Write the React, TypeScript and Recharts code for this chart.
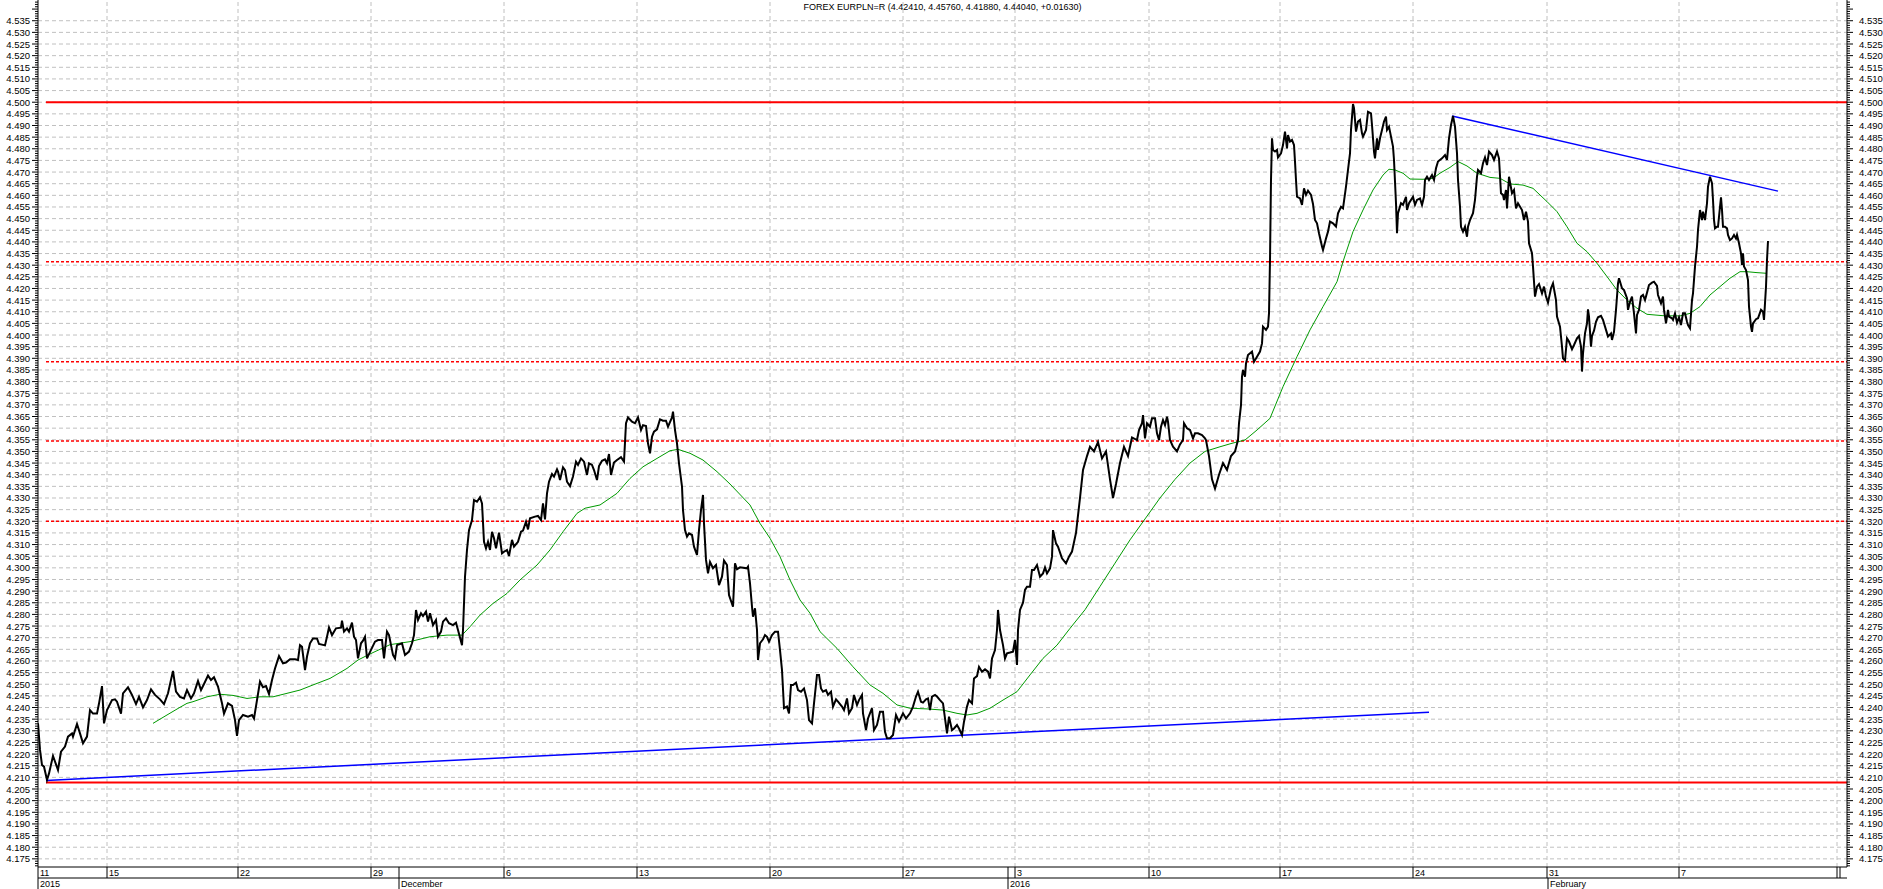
import React from "react";
import { ComposedChart, Line, XAxis, YAxis, ReferenceLine } from "recharts";

const WIDTH = 1883;
const HEIGHT = 889;
const FONT = "'Liberation Sans', Arial, sans-serif";

const TITLE = "FOREX EURPLN=R (4.42410, 4.45760, 4.41880, 4.44040, +0.01630)";

// x = trading bar index, bar 0 = 11 Nov 2015
const BAR_DOMAIN: [number, number] = [0, 1809];
const PRICE_DOMAIN: [number, number] = [4.1715, 4.5439];

const weekTicks = [0, 69, 200, 333, 466, 599, 732, 865, 977, 1111, 1242, 1375, 1509, 1641, 1799];
// last label is hidden under the right edge in the original
const weekLabels = ["11", "15", "22", "29", "6", "13", "20", "27", "3", "10", "17", "24", "31", "7", ""];
const monthTicks = [0, 361, 970, 1510];
const monthLabels = ["2015", "December", "2016", "February"];

// [bar, close]
const closePrices: [number, number][] = [
  [0, 4.2332], [2, 4.2218], [4, 4.2153], [6, 4.2146], [9, 4.2089], [11, 4.2117], [15, 4.2192], [20, 4.2132],
  [23, 4.221], [27, 4.2232], [30, 4.2275], [34, 4.2289], [35, 4.2275], [39, 4.2329], [42, 4.2289], [45, 4.2246],
  [49, 4.2275], [52, 4.2389], [55, 4.2374], [59, 4.2374], [61, 4.2417], [64, 4.2492], [66, 4.2332], [69, 4.2389],
  [74, 4.2432], [77, 4.2435], [79, 4.2425], [83, 4.2374], [85, 4.2461], [90, 4.2487], [94, 4.2454], [98, 4.2415],
  [101, 4.2446], [105, 4.2401], [109, 4.2432], [113, 4.2478], [117, 4.2454], [122, 4.2435], [126, 4.2415], [130, 4.2461],
  [135, 4.2557], [138, 4.2468], [142, 4.2446], [146, 4.2439], [149, 4.2475], [153, 4.2439], [156, 4.2461], [160, 4.2514],
  [163, 4.2475], [166, 4.2501], [170, 4.2537], [173, 4.2518], [176, 4.253], [180, 4.249], [184, 4.2418], [186, 4.2374],
  [190, 4.2418], [194, 4.2407], [197, 4.2346], [199, 4.2278], [201, 4.2346], [205, 4.2368], [210, 4.2361], [214, 4.2368],
  [216, 4.2353], [219, 4.2432], [222, 4.2511], [225, 4.2487], [228, 4.2492], [231, 4.2458], [234, 4.2518], [237, 4.2568],
  [241, 4.2621], [245, 4.259], [248, 4.2593], [252, 4.2607], [257, 4.2607], [260, 4.2604], [262, 4.2668], [264, 4.2661],
  [267, 4.2561], [269, 4.2619], [272, 4.2676], [275, 4.2697], [279, 4.2697], [281, 4.2673], [287, 4.2667], [289, 4.2704],
  [291, 4.2744], [294, 4.2711], [298, 4.274], [303, 4.2743], [304, 4.2773], [306, 4.2726], [309, 4.274], [311, 4.2726],
  [314, 4.2765], [316, 4.2704], [318, 4.269], [320, 4.2611], [323, 4.2676], [325, 4.2687], [327, 4.2704], [329, 4.2611],
  [330, 4.2621], [337, 4.2683], [340, 4.269], [344, 4.269], [346, 4.2611], [349, 4.2726], [351, 4.2711], [355, 4.2626],
  [357, 4.2611], [359, 4.2668], [364, 4.2676], [367, 4.2626], [371, 4.264], [374, 4.2676], [376, 4.2711], [378, 4.2819],
  [380, 4.2776], [383, 4.2805], [385, 4.2793], [388, 4.2812], [390, 4.2769], [392, 4.2805], [395, 4.2754], [398, 4.2776],
  [400, 4.2704], [403, 4.2726], [405, 4.2769], [408, 4.2783], [411, 4.2762], [415, 4.2754], [418, 4.2764], [420, 4.2733],
  [424, 4.2668], [425, 4.2733], [427, 4.2962], [429, 4.3077], [431, 4.3162], [434, 4.3205], [436, 4.3291], [439, 4.3284],
  [442, 4.3303], [444, 4.3277], [446, 4.3112], [448, 4.3084], [450, 4.3112], [452, 4.3077], [454, 4.3155], [456, 4.3127],
  [458, 4.3084], [461, 4.3151], [464, 4.3062], [466, 4.3069], [469, 4.3077], [471, 4.3051], [474, 4.312], [476, 4.3091],
  [480, 4.3112], [483, 4.3155], [485, 4.316], [488, 4.3198], [490, 4.3165], [492, 4.3213], [497, 4.322], [500, 4.3223],
  [503, 4.3205], [505, 4.3277], [507, 4.3208], [509, 4.332], [511, 4.337], [514, 4.3403], [516, 4.3392], [519, 4.3423],
  [520, 4.3413], [522, 4.3377], [525, 4.3432], [527, 4.342], [529, 4.337], [532, 4.3351], [535, 4.3392], [538, 4.3456],
  [540, 4.3442], [543, 4.347], [546, 4.3456], [549, 4.3399], [551, 4.3449], [554, 4.3442], [556, 4.342], [559, 4.3377],
  [561, 4.3437], [564, 4.346], [567, 4.3466], [569, 4.3449], [571, 4.3489], [573, 4.3399], [576, 4.3452], [579, 4.3463],
  [583, 4.3475], [586, 4.3456], [588, 4.3621], [590, 4.3646], [594, 4.3628], [597, 4.3621], [600, 4.3646], [603, 4.3592],
  [605, 4.3613], [608, 4.3609], [610, 4.3535], [612, 4.3492], [614, 4.3563], [616, 4.3585], [619, 4.3595], [622, 4.3638],
  [625, 4.3632], [628, 4.3632], [630, 4.3606], [634, 4.3646], [635, 4.3671], [637, 4.3592], [639, 4.3535], [641, 4.3449],
  [644, 4.3349], [645, 4.3248], [647, 4.3162], [649, 4.3134], [651, 4.3148], [654, 4.3141], [656, 4.3091], [659, 4.3055],
  [661, 4.3162], [663, 4.3248], [665, 4.3313], [666, 4.3191], [668, 4.3034], [670, 4.2976], [672, 4.3025], [675, 4.2998],
  [678, 4.3012], [681, 4.2926], [684, 4.2962], [686, 4.3031], [689, 4.3012], [691, 4.2883], [695, 4.2833], [697, 4.3019],
  [699, 4.2994], [702, 4.3002], [709, 4.2998], [710, 4.3005], [712, 4.2933], [714, 4.2833], [715, 4.279], [717, 4.2826],
  [719, 4.2733], [720, 4.2604], [722, 4.2676], [725, 4.2693], [727, 4.2711], [729, 4.2704], [731, 4.2683], [734, 4.2711],
  [737, 4.2726], [740, 4.2726], [742, 4.2647], [744, 4.2561], [746, 4.2397], [749, 4.2404], [751, 4.2375], [753, 4.2497],
  [755, 4.2497], [758, 4.2507], [760, 4.2475], [763, 4.2468], [766, 4.2482], [769, 4.2432], [771, 4.2346], [774, 4.2332],
  [776, 4.2418], [779, 4.254], [781, 4.254], [783, 4.2482], [785, 4.2468], [788, 4.2475], [790, 4.2454], [793, 4.2468],
  [795, 4.2404], [798, 4.2435], [800, 4.2425], [804, 4.2404], [806, 4.2389], [809, 4.2439], [811, 4.2375], [814, 4.2397],
  [816, 4.2454], [819, 4.2411], [821, 4.2432], [824, 4.2454], [825, 4.2375], [828, 4.2303], [830, 4.2353], [834, 4.2397],
  [836, 4.2303], [839, 4.2325], [842, 4.2382], [845, 4.2382], [847, 4.2296], [849, 4.2268], [852, 4.2268], [855, 4.2282],
  [858, 4.2368], [861, 4.2339], [865, 4.2375], [868, 4.2353], [872, 4.2375], [875, 4.2404], [878, 4.2447], [880, 4.2468],
  [883, 4.2425], [885, 4.2421], [888, 4.2435], [890, 4.2439], [892, 4.2389], [894, 4.2447], [897, 4.2454], [899, 4.2447],
  [902, 4.2432], [905, 4.2418], [907, 4.2353], [909, 4.2289], [911, 4.2361], [914, 4.2303], [916, 4.231], [919, 4.2325],
  [921, 4.231], [924, 4.2282], [926, 4.2339], [929, 4.2404], [931, 4.2432], [934, 4.2418], [936, 4.2525], [939, 4.2535],
  [941, 4.2575], [944, 4.2554], [947, 4.2564], [950, 4.2554], [952, 4.2525], [954, 4.2611], [957, 4.2647], [959, 4.2733],
  [960, 4.2819], [962, 4.2733], [965, 4.2668], [967, 4.2611], [969, 4.2633], [972, 4.2636], [975, 4.264], [977, 4.269],
  [979, 4.2583], [980, 4.2733], [982, 4.2819], [985, 4.285], [987, 4.2905], [989, 4.2919], [992, 4.2919], [994, 4.2991],
  [996, 4.2991], [999, 4.3012], [1002, 4.2962], [1005, 4.2976], [1007, 4.3002], [1009, 4.2976], [1012, 4.2998], [1014, 4.3048],
  [1015, 4.3162], [1018, 4.3105], [1020, 4.3091], [1024, 4.3041], [1028, 4.3019], [1031, 4.3048], [1034, 4.307], [1038, 4.315],
  [1042, 4.33], [1045, 4.342], [1049, 4.348], [1052, 4.352], [1056, 4.35], [1060, 4.354], [1064, 4.347], [1068, 4.35],
  [1072, 4.338], [1075, 4.33], [1078, 4.336], [1082, 4.345], [1086, 4.352], [1090, 4.348], [1094, 4.356], [1099, 4.3549],
  [1101, 4.3592], [1104, 4.3621], [1105, 4.3656], [1107, 4.3556], [1109, 4.3621], [1112, 4.3606], [1114, 4.3642], [1117, 4.3642],
  [1119, 4.3578], [1121, 4.3549], [1123, 4.3606], [1125, 4.3635], [1127, 4.3613], [1129, 4.3649], [1130, 4.3628], [1132, 4.3549],
  [1135, 4.352], [1139, 4.35], [1142, 4.353], [1145, 4.3549], [1146, 4.3621], [1149, 4.3599], [1152, 4.3592], [1155, 4.3556],
  [1157, 4.3578], [1160, 4.3578], [1164, 4.357], [1167, 4.3556], [1168, 4.3549], [1171, 4.348], [1174, 4.338], [1177, 4.334],
  [1181, 4.34], [1185, 4.345], [1189, 4.342], [1193, 4.348], [1197, 4.35], [1200, 4.3549], [1201, 4.3621], [1203, 4.3699],
  [1204, 4.3821], [1205, 4.385], [1207, 4.3821], [1208, 4.3878], [1210, 4.3914], [1214, 4.3929], [1216, 4.3885], [1219, 4.3907],
  [1222, 4.3929], [1224, 4.3964], [1225, 4.4036], [1228, 4.4022], [1230, 4.4036], [1231, 4.4093], [1232, 4.4322], [1233, 4.4666],
  [1234, 4.4845], [1235, 4.4795], [1237, 4.4788], [1239, 4.4795], [1240, 4.4763], [1243, 4.478], [1245, 4.4816], [1247, 4.4874],
  [1249, 4.4802], [1250, 4.4859], [1252, 4.4831], [1254, 4.4838], [1256, 4.4816], [1257, 4.4745], [1258, 4.4666], [1259, 4.4594],
  [1262, 4.4587], [1264, 4.4559], [1266, 4.463], [1268, 4.4602], [1270, 4.462], [1273, 4.4602], [1275, 4.4563], [1277, 4.4494],
  [1279, 4.448], [1281, 4.4437], [1284, 4.438], [1285, 4.4365], [1288, 4.4415], [1290, 4.4444], [1292, 4.4487], [1295, 4.448],
  [1298, 4.4466], [1300, 4.4523], [1303, 4.4551], [1305, 4.4544], [1308, 4.4637], [1310, 4.4709], [1312, 4.478], [1313, 4.4881],
  [1315, 4.4992], [1316, 4.4974], [1318, 4.4874], [1320, 4.4917], [1322, 4.4924], [1324, 4.4866], [1325, 4.4852], [1328, 4.4881],
  [1330, 4.4959], [1333, 4.4952], [1334, 4.4902], [1336, 4.4788], [1337, 4.4759], [1339, 4.4845], [1340, 4.4795], [1342, 4.4845],
  [1344, 4.4881], [1346, 4.4917], [1348, 4.4938], [1349, 4.4881], [1351, 4.4895], [1355, 4.4809], [1356, 4.4752], [1358, 4.4566],
  [1359, 4.4437], [1360, 4.4523], [1363, 4.4566], [1365, 4.4559], [1368, 4.4594], [1369, 4.4537], [1371, 4.4566], [1375, 4.4594],
  [1377, 4.4559], [1379, 4.458], [1382, 4.4587], [1384, 4.4559], [1386, 4.4594], [1387, 4.4666], [1389, 4.468], [1391, 4.4666],
  [1394, 4.4687], [1396, 4.4666], [1398, 4.4716], [1400, 4.4745], [1404, 4.4759], [1407, 4.4773], [1409, 4.4752], [1411, 4.4845],
  [1413, 4.4902], [1415, 4.4941], [1417, 4.4895], [1419, 4.478], [1420, 4.4666], [1422, 4.4551], [1423, 4.4465], [1425, 4.4444],
  [1427, 4.4465], [1429, 4.4422], [1430, 4.4465], [1432, 4.4494], [1435, 4.4523], [1437, 4.458], [1439, 4.468], [1440, 4.4709],
  [1443, 4.4695], [1445, 4.4738], [1447, 4.4763], [1449, 4.473], [1451, 4.4788], [1454, 4.4773], [1456, 4.4752], [1459, 4.4788],
  [1461, 4.4759], [1463, 4.4609], [1465, 4.4602], [1466, 4.458], [1468, 4.4623], [1469, 4.4544], [1471, 4.468], [1474, 4.4609],
  [1476, 4.4623], [1478, 4.4544], [1480, 4.4566], [1484, 4.4537], [1486, 4.4494], [1488, 4.453], [1490, 4.4487], [1491, 4.4394],
  [1494, 4.4351], [1495, 4.4294], [1497, 4.4165], [1499, 4.4208], [1501, 4.4219], [1504, 4.4179], [1506, 4.4208], [1508, 4.4165],
  [1510, 4.4139], [1513, 4.4201], [1515, 4.4222], [1518, 4.415], [1519, 4.4079], [1522, 4.4036], [1524, 4.395], [1525, 4.39],
  [1527, 4.389], [1529, 4.3986], [1531, 4.3972], [1534, 4.3939], [1536, 4.3957], [1539, 4.3986], [1541, 4.3996], [1543, 4.395],
  [1544, 4.3843], [1545, 4.3921], [1547, 4.4007], [1549, 4.405], [1550, 4.411], [1551, 4.4079], [1553, 4.395], [1554, 4.3996],
  [1556, 4.4019], [1558, 4.4057], [1560, 4.4076], [1563, 4.4082], [1565, 4.4065], [1568, 4.4022], [1570, 4.3993], [1573, 4.4007],
  [1574, 4.3979], [1576, 4.4014], [1578, 4.4108], [1580, 4.4222], [1581, 4.4244], [1584, 4.4201], [1586, 4.4193], [1589, 4.4158],
  [1590, 4.4108], [1592, 4.4143], [1594, 4.4165], [1596, 4.4093], [1598, 4.4007], [1599, 4.4086], [1601, 4.4108], [1603, 4.4165],
  [1605, 4.4172], [1607, 4.415], [1609, 4.4182], [1611, 4.4215], [1614, 4.4225], [1616, 4.4229], [1619, 4.4211], [1620, 4.4172],
  [1623, 4.4136], [1625, 4.4165], [1626, 4.4108], [1628, 4.405], [1630, 4.4108], [1631, 4.4079], [1634, 4.4072], [1635, 4.4065],
  [1637, 4.4093], [1639, 4.4053], [1641, 4.4076], [1643, 4.4043], [1645, 4.4093], [1647, 4.4093], [1649, 4.4057], [1650, 4.4043],
  [1652, 4.4029], [1654, 4.415], [1655, 4.4179], [1657, 4.4294], [1659, 4.4379], [1660, 4.4451], [1662, 4.4537], [1664, 4.4494],
  [1665, 4.453], [1667, 4.4494], [1669, 4.4566], [1670, 4.4637], [1672, 4.468], [1674, 4.4652], [1675, 4.458], [1676, 4.4494],
  [1677, 4.4458], [1679, 4.4465], [1680, 4.4465], [1682, 4.4551], [1683, 4.4591], [1684, 4.4537], [1685, 4.4465], [1687, 4.4465],
  [1689, 4.4458], [1690, 4.443], [1692, 4.4408], [1694, 4.4415], [1696, 4.443], [1698, 4.4415], [1699, 4.443], [1701, 4.4394],
  [1703, 4.4351], [1704, 4.4301], [1705, 4.4351], [1706, 4.4294], [1708, 4.4279], [1710, 4.4236], [1711, 4.4122], [1713, 4.4036],
  [1714, 4.4014], [1715, 4.405], [1718, 4.4068], [1720, 4.4072], [1723, 4.4108], [1725, 4.41], [1726, 4.4065], [1728, 4.4208],
  [1729, 4.4322], [1730, 4.4404],
];

// [bar, moving average]
const movingAverage: [number, number][] = [
  [115, 4.2332], [129, 4.2368], [142, 4.2401], [149, 4.2418], [155, 4.2425], [169, 4.2446], [182, 4.2457], [195, 4.2452],
  [209, 4.2439], [222, 4.2446], [235, 4.2446], [249, 4.2461], [262, 4.2475], [275, 4.2497], [292, 4.2525], [309, 4.2568],
  [320, 4.2604], [332, 4.263], [352, 4.267], [372, 4.2683], [392, 4.2704], [409, 4.2711], [424, 4.2711], [432, 4.2747],
  [442, 4.2797], [455, 4.2847], [469, 4.289], [482, 4.2948], [499, 4.3012], [512, 4.3077], [525, 4.3155], [539, 4.3234],
  [547, 4.3256], [562, 4.327], [579, 4.332], [592, 4.3384], [605, 4.3434], [619, 4.347], [632, 4.3503], [640, 4.3509],
  [652, 4.3492], [665, 4.3463], [679, 4.3413], [692, 4.336], [712, 4.327], [722, 4.3191], [732, 4.3127], [742, 4.3048],
  [752, 4.2948], [762, 4.2862], [772, 4.2805], [782, 4.2726], [799, 4.2654], [815, 4.2575], [832, 4.2497], [845, 4.2461],
  [859, 4.2411], [872, 4.2397], [889, 4.2394], [905, 4.2389], [919, 4.2375], [929, 4.2368], [939, 4.2375], [952, 4.2397],
  [965, 4.2432], [979, 4.2468], [992, 4.254], [1005, 4.2611], [1019, 4.2668], [1032, 4.274], [1047, 4.282], [1062, 4.292],
  [1077, 4.302], [1092, 4.312], [1107, 4.321], [1122, 4.33], [1137, 4.338], [1152, 4.345], [1167, 4.35], [1182, 4.352],
  [1194, 4.3535], [1207, 4.3549], [1219, 4.3592], [1232, 4.3642], [1245, 4.3778], [1259, 4.3907], [1272, 4.4022], [1285, 4.4122],
  [1299, 4.4229], [1305, 4.4315], [1315, 4.4444], [1325, 4.4537], [1335, 4.4623], [1345, 4.4687], [1351, 4.4712], [1357, 4.4709],
  [1365, 4.4695], [1372, 4.467], [1385, 4.4669], [1395, 4.4673], [1402, 4.4695], [1412, 4.472], [1420, 4.4745], [1429, 4.4726],
  [1439, 4.4695], [1452, 4.4677], [1462, 4.4673], [1472, 4.4649], [1485, 4.4644], [1495, 4.463], [1509, 4.4573], [1519, 4.453],
  [1529, 4.4465], [1539, 4.4394], [1549, 4.4358], [1559, 4.4308], [1569, 4.4251], [1579, 4.4193], [1589, 4.415], [1599, 4.4115],
  [1609, 4.4089], [1625, 4.4083], [1642, 4.4082], [1652, 4.4093], [1662, 4.4122], [1672, 4.4172], [1682, 4.4208], [1692, 4.4244],
  [1702, 4.4272], [1709, 4.4272], [1719, 4.4268], [1729, 4.4265],
];

const supportLine: [number, number][] = [[8, 4.2087], [1391, 4.238]];
const resistanceLine: [number, number][] = [[1414, 4.4941], [1740, 4.4618]];
const solidLevels = [4.5, 4.2078];
const dashedLevels = [4.4315, 4.3885, 4.3545, 4.32];
const levelStartBar = 8;

const priceData = closePrices.map(([bar, v]) => ({ bar, v }));
const maData = movingAverage.map(([bar, v]) => ({ bar, v }));

// axis ticks every 0.001, labels/grid every 0.005
const yTicks: number[] = [];
for (let k = 4172; k <= 4543; k++) yTicks.push(k / 1000);
const gridLevels: number[] = [];
for (let k = 4175; k <= 4535; k += 5) gridLevels.push(k / 1000);

const dayTicks = [...weekTicks, ...monthTicks.slice(1, 3)].sort((a, b) => a - b);

const tickText = (k: number) => (k % 5 === 0 && k >= 4175 && k <= 4535 ? (k / 1000).toFixed(3) : null);

const LeftTick = (props: any) => {
  const { x, y, payload } = props;
  const k = Math.round(payload.value * 1000);
  const label = tickText(k);
  const len = k % 5 === 0 ? 6 : 3;
  return (
    <g>
      <line x1={x - len} x2={x} y1={y} y2={y} stroke="#000" />
      {label && (
        <text x={x - 8} y={y + 3.5} textAnchor="end" fontSize={9.5} fontFamily={FONT} fill="#000">
          {label}
        </text>
      )}
    </g>
  );
};

const RightTick = (props: any) => {
  const { x, y, payload } = props;
  const k = Math.round(payload.value * 1000);
  const label = tickText(k);
  const len = k % 5 === 0 ? 6 : 3;
  return (
    <g>
      <line x1={x} x2={x + len} y1={y} y2={y} stroke="#000" />
      {label && (
        <text x={x + 12} y={y + 3.5} textAnchor="start" fontSize={9.5} fontFamily={FONT} fill="#000">
          {label}
        </text>
      )}
    </g>
  );
};

const DayTick = (props: any) => {
  const { x, y, payload } = props;
  const i = weekTicks.indexOf(payload.value);
  const last = i === weekTicks.length - 1;
  return (
    <g>
      <line x1={x} x2={x} y1={y} y2={y + 11} stroke="#000" />
      {last && <line x1={x + 3} x2={x + 3} y1={y} y2={y + 11} stroke="#000" />}
      {i >= 0 && weekLabels[i] && (
        <text x={x + 2} y={y + 9} fontSize={9} fontFamily={FONT} fill="#000">
          {weekLabels[i]}
        </text>
      )}
    </g>
  );
};

const MonthTick = (props: any) => {
  const { x, y, payload } = props;
  const i = monthTicks.indexOf(payload.value);
  return (
    <g>
      <line x1={x} x2={x} y1={y} y2={y + 11} stroke="#000" />
      <text x={x + 2} y={y + 9} fontSize={9} fontFamily={FONT} fill="#000">
        {monthLabels[i]}
      </text>
    </g>
  );
};

export default function App() {
  return (
    <div style={{ position: "absolute", left: 0, top: 0, width: WIDTH, height: HEIGHT, background: "#fff" }}>
      <ComposedChart width={WIDTH} height={HEIGHT} margin={{ top: 0, right: 0, bottom: 0, left: 0 }}>
        <XAxis
          dataKey="bar"
          type="number"
          domain={BAR_DOMAIN}
          allowDataOverflow
          ticks={dayTicks}
          interval={0}
          height={11}
          tickSize={0}
          tickMargin={0}
          tickLine={false}
          tick={<DayTick />}
          axisLine={{ stroke: "#000" }}
        />
        <XAxis
          xAxisId="month"
          dataKey="bar"
          type="number"
          domain={BAR_DOMAIN}
          allowDataOverflow
          ticks={monthTicks}
          interval={0}
          height={11}
          tickSize={0}
          tickMargin={0}
          tickLine={false}
          tick={<MonthTick />}
          axisLine={{ stroke: "#000" }}
        />
        <YAxis
          type="number"
          domain={PRICE_DOMAIN}
          allowDataOverflow
          ticks={yTicks}
          interval={0}
          width={38}
          tickSize={0}
          tickMargin={0}
          tickLine={false}
          tick={<LeftTick />}
          axisLine={{ stroke: "#000" }}
        />
        <YAxis
          yAxisId="right"
          orientation="right"
          type="number"
          domain={PRICE_DOMAIN}
          allowDataOverflow
          ticks={yTicks}
          interval={0}
          width={36}
          tickSize={0}
          tickMargin={0}
          tickLine={false}
          tick={<RightTick />}
          axisLine={{ stroke: "#000" }}
        />

        {gridLevels.map((v) => (
          <ReferenceLine key={`h${v}`} y={v} stroke="#c0c0c0" strokeDasharray="4 3" />
        ))}
        {weekTicks.slice(1).map((t) => (
          <ReferenceLine key={`v${t}`} x={t} stroke="#c0c0c0" strokeDasharray="4 3" />
        ))}

        {solidLevels.map((v) => (
          <ReferenceLine
            key={`s${v}`}
            segment={[{ x: levelStartBar, y: v }, { x: BAR_DOMAIN[1], y: v }]}
            stroke="#ff0000"
            strokeWidth={2}
          />
        ))}
        {dashedLevels.map((v) => (
          <ReferenceLine
            key={`d${v}`}
            segment={[{ x: levelStartBar, y: v }, { x: BAR_DOMAIN[1], y: v }]}
            stroke="#ff0000"
            strokeWidth={1.5}
            strokeDasharray="3 2"
          />
        ))}
        <ReferenceLine
          segment={supportLine.map(([x, y]) => ({ x, y }))}
          stroke="#0000ff"
          strokeWidth={1.5}
        />
        <ReferenceLine
          segment={resistanceLine.map(([x, y]) => ({ x, y }))}
          stroke="#0000ff"
          strokeWidth={1.5}
        />

        <Line
          data={maData}
          dataKey="v"
          type="linear"
          dot={false}
          stroke="#009a00"
          strokeWidth={1}
          isAnimationActive={false}
        />
        <Line
          data={priceData}
          dataKey="v"
          type="linear"
          dot={false}
          stroke="#000"
          strokeWidth={2}
          isAnimationActive={false}
        />
      </ComposedChart>
      <div
        style={{
          position: "absolute",
          left: 38,
          width: 1809,
          top: 1,
          textAlign: "center",
          fontFamily: FONT,
          fontSize: 9,
          lineHeight: "12px",
          color: "#000",
          pointerEvents: "none",
        }}
      >
        {TITLE}
      </div>
    </div>
  );
}
